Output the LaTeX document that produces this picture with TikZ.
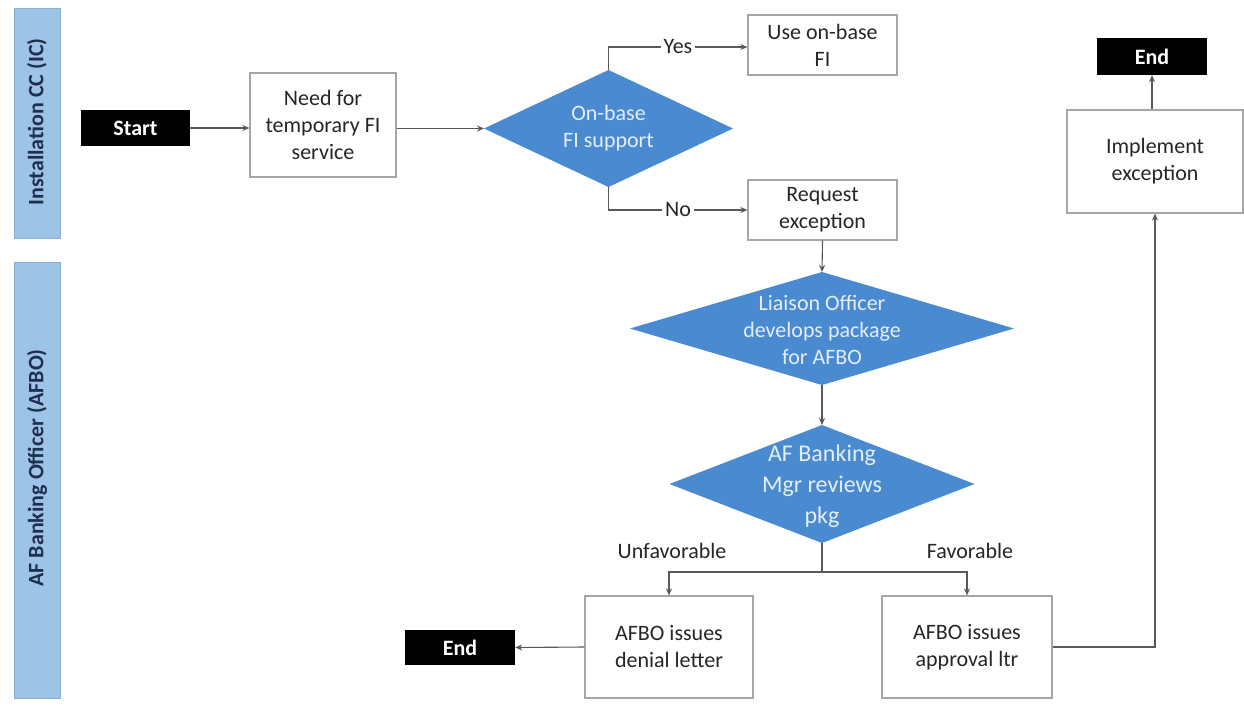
\documentclass[tikz,border=0pt]{standalone}
\usepackage{fontspec}
\setmainfont{Carlito}
\usetikzlibrary{shapes.geometric,arrows.meta}
\definecolor{lanefill}{HTML}{9DC3E6}
\definecolor{laneedge}{HTML}{8AAFD0}
\definecolor{lanetext}{HTML}{1F2F4F}
\definecolor{diafill}{HTML}{4A8AD0}
\definecolor{diatext}{HTML}{E4EEF8}
\definecolor{boxedge}{HTML}{A6A6A6}
\definecolor{txt}{HTML}{262626}
\definecolor{linec}{HTML}{595959}
\tikzset{
  lane/.style={draw=laneedge, fill=lanefill, line width=1pt},
  lanelabel/.style={rotate=90, text=lanetext, font=\fontsize{22}{26}\selectfont\bfseries},
  procbox/.style={draw=boxedge, line width=1.2pt, fill=white, align=center, text=txt,
    font=\fontsize{22}{27}\selectfont, inner sep=0pt},
  termbox/.style={fill=black, text=white, font=\fontsize{22}{26}\selectfont\bfseries, inner sep=0pt},
  dia/.style={diamond, fill=diafill, inner sep=0pt, outer sep=0pt},
  diatxt/.style={align=center, text=diatext, font=\fontsize{22}{27}\selectfont},
  lbl/.style={text=txt, font=\fontsize{22}{27}\selectfont, fill=white, inner sep=3pt},
  conn/.style={draw=linec, line width=1.1pt, -{Stealth[length=7pt,width=6pt]}},
  plain/.style={draw=linec, line width=1.1pt}
}
\begin{document}
\begin{tikzpicture}[x=1pt,y=-1pt]
\useasboundingbox[fill=white] (0,0) rectangle (1244,707);
% swimlanes
\draw[lane] (14,8) rectangle (60,238);
\node[lanelabel] (lane1) at (37,122) {Installation CC (IC)};
\draw[lane] (14,262) rectangle (60,698);
\node[lanelabel] (lane2) at (37,468) {AF Banking Officer (AFBO)};
% nodes
\node[termbox, minimum width=109, minimum height=36] (start) at (135.5,128) {Start};
\node[procbox, minimum width=146, minimum height=104] (need) at (323,125) {Need for\\temporary FI\\service};
\node[dia, minimum width=249, minimum height=117] (d1) at (608.5,128.5) {};
\node[diatxt] at (d1) {On-base\\FI support};
\node[procbox, minimum width=149, minimum height=60] (use) at (822.5,45) {Use on-base\\FI};
\node[procbox, minimum width=149, minimum height=60] (req) at (822.5,210) {Request\\exception};
\node[dia, minimum width=384, minimum height=113] (d2) at (822,328.5) {};
\node[diatxt] at (822,330) {Liaison Officer\\develops package\\for AFBO};
\node[dia, minimum width=305, minimum height=118] (d3) at (822,484) {};
\node[diatxt, font=\fontsize{24}{31}\selectfont] at (822,486) {AF Banking\\Mgr reviews\\pkg};
\node[procbox, minimum width=168, minimum height=102] (deny) at (669,647) {AFBO issues\\denial letter};
\node[procbox, minimum width=170, minimum height=102] (appr) at (967,647) {AFBO issues\\approval ltr};
\node[termbox, minimum width=110, minimum height=35] (end1) at (460,647.5) {End};
\node[procbox, minimum width=176, minimum height=103] (impl) at (1155,161.5) {Implement\\exception};
\node[termbox, minimum width=110, minimum height=37] (end2) at (1152,56.5) {End};
% connectors
\draw[conn] (start.east) -- (need.west |- start.east);
\draw[conn] (need.east |- d1.west) -- (d1.west);
\coordinate (yc) at (608.5,47);
\coordinate (nc) at (608.5,210);
\draw[conn] (d1.north) -- (yc) -- node[lbl, pos=0.5] (yes) {Yes} (use.west |- yc);
\draw[conn] (d1.south) -- (nc) -- node[lbl, pos=0.5] (no) {No} (req.west |- nc);
\draw[conn] (req.south) -- (d2.north);
\draw[conn] (d2.south) -- (d3.north);
\coordinate (split) at (822,572);
\draw[plain] (d3.south) -- (split);
\draw[conn] (split) -| (deny.north);
\draw[conn] (split) -| (appr.north);
\node[text=txt, font=\fontsize{22}{27}\selectfont] (unf) at (672,551) {Unfavorable};
\node[text=txt, font=\fontsize{22}{27}\selectfont] (fav) at (970,551) {Favorable};
\draw[conn] (deny.west) -- (end1.east);
\draw[conn] (appr.east) -| (impl.south);
\draw[conn] (impl.north -| end2) -- (end2.south);
\end{tikzpicture}
\end{document}
